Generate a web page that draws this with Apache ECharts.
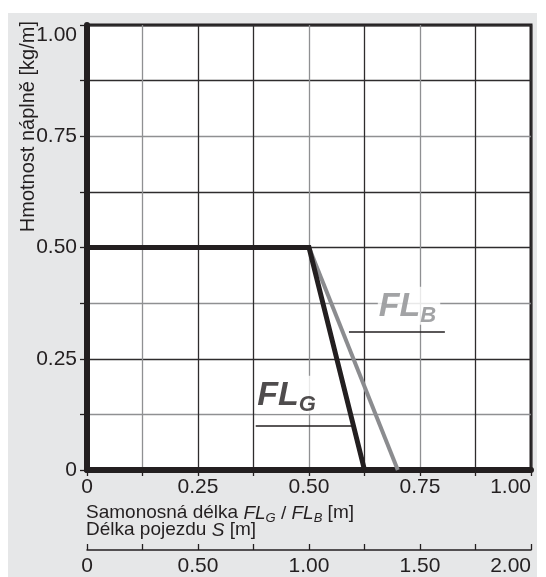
<!DOCTYPE html>
<html>
<head>
<meta charset="utf-8">
<script src="https://cdn.jsdelivr.net/npm/echarts@6/dist/echarts.min.js"></script>
<style>
html,body{margin:0;padding:0;background:#fff;}
#c{width:546px;height:577px;}
</style>
</head>
<body>
<div id="c"></div>
<script>
// ---- data ----
const flG = [[0, 0.5], [0.5, 0.5], [0.625, 0]];
const flB = [[0.5, 0.5], [0.7, 0]];
const xTickLabels = ['0', '0.25', '0.50', '0.75', '1.00'];
const yTickLabels = ['0', '0.25', '0.50', '0.75', '1.00'];
const sTickLabels = ['0', '0.50', '1.00', '1.50', '2.00'];
const labelGPos = [[0.381, 0.212]];
const labelBPos = [[0.655, 0.412]];
const underlineG = [[0.38, 0.1], [0.6, 0.1]];
const underlineB = [[0.59, 0.31], [0.806, 0.31]];

const DARK = '#231f20';
const GRAYL = '#8b8c8f';
const GRIDD = '#2e2c2d';
const GRIDG = '#8f9092';
const FONT = 'Liberation Sans, Arial, sans-serif';

const xSplitColors = [GRIDD, GRIDG, GRIDD, GRIDD, GRIDG, GRIDD, GRIDG, GRIDD, GRIDD];
const ySplitColors = [GRIDD, GRIDG, GRIDD, GRIDG, GRIDD, GRIDD, GRIDG, GRIDD, GRIDD];

function fmt(labels, max) {
  return function (v) {
    const i = Math.round(v / max * 4 * 1000) / 1000;
    return Number.isInteger(i) ? labels[i] : '';
  };
}

const chart = echarts.init(document.getElementById('c'), null, {renderer: 'canvas'});

const labelRich = function (color) {
  return {
    a: {fontFamily: FONT, fontSize: 34, fontWeight: 'bold', fontStyle: 'italic', color: color, lineHeight: 28, verticalAlign: 'top'},
    b: {fontFamily: FONT, fontSize: 22, fontWeight: 'bold', fontStyle: 'italic', color: color, lineHeight: 22, padding: [15, 0, 0, 0], verticalAlign: 'top'}
  };
};

chart.setOption({
  animation: false,
  backgroundColor: '#fff',
  graphic: [
    {type: 'rect', z: -100, silent: true, shape: {x: 8, y: 13, width: 529, height: 564}, style: {fill: '#e6e7e8'}},
    {type: 'text', left: 86, top: 503, z: 10, style: {
      text: 'Samonosná délka {i|FL}{s|G}{g| / }{gi|FL}{gs|B} [m]',
      fontFamily: FONT, fontSize: 19, fill: DARK, lineHeight: 17, verticalAlign: 'top',
      rich: {
        i: {fontFamily: FONT, fontSize: 19, fontStyle: 'italic', color: DARK, lineHeight: 17, verticalAlign: 'top'},
        s: {fontFamily: FONT, fontSize: 13, fontStyle: 'italic', color: DARK, lineHeight: 13, padding: [8, 0, 0, 0], verticalAlign: 'top'},
        g: {fontFamily: FONT, fontSize: 19, color: GRAYL, lineHeight: 17, verticalAlign: 'top'},
        gi: {fontFamily: FONT, fontSize: 19, fontStyle: 'italic', color: GRAYL, lineHeight: 17, verticalAlign: 'top'},
        gs: {fontFamily: FONT, fontSize: 13, fontStyle: 'italic', color: GRAYL, lineHeight: 13, padding: [8, 0, 0, 0], verticalAlign: 'top'}
      }
    }},
    {type: 'text', left: 86, top: 520, z: 10, style: {
      text: 'Délka pojezdu {i|S} [m]',
      fontFamily: FONT, fontSize: 19, fill: DARK, lineHeight: 17, verticalAlign: 'top',
      rich: {i: {fontFamily: FONT, fontSize: 19, fontStyle: 'italic', color: DARK, lineHeight: 17, verticalAlign: 'top'}}
    }},
    {type: 'text', x: 38, y: 21, rotation: Math.PI / 2, z: 10, style: {
      text: 'Hmotnost náplně [kg/m]', fontFamily: FONT, fontSize: 20, fill: DARK,
      align: 'right', verticalAlign: 'bottom'
    }}
  ],
  grid: {left: 87, top: 25, width: 444, height: 446, show: true, backgroundColor: '#fff', borderColor: DARK, borderWidth: 3, containLabel: false},
  xAxis: [
    {
      type: 'value', min: 0, max: 1, interval: 0.125, position: 'bottom',
      axisLine: {show: true, onZero: false, lineStyle: {color: DARK, width: 6}},
      axisTick: {show: true, length: 6, lineStyle: {color: DARK, width: 1.3}},
      axisLabel: {show: true, margin: 7, fontFamily: FONT, fontSize: 21, color: DARK, formatter: fmt(xTickLabels, 1), alignMaxLabel: 'right', showMinLabel: true, showMaxLabel: true},
      splitLine: {show: true, lineStyle: {color: xSplitColors, width: 1.3}}
    },
    {
      type: 'value', min: 0, max: 2, interval: 0.25, position: 'bottom', offset: 80, gridIndex: 0,
      axisLine: {show: true, onZero: false, lineStyle: {color: DARK, width: 1.5}},
      axisTick: {show: true, inside: true, length: 6, lineStyle: {color: DARK, width: 1.3}},
      axisLabel: {show: true, margin: 6, fontFamily: FONT, fontSize: 21, color: DARK, formatter: fmt(sTickLabels, 2), alignMaxLabel: 'right', showMinLabel: true, showMaxLabel: true},
      splitLine: {show: false}
    }
  ],
  yAxis: {
    type: 'value', min: 0, max: 1, interval: 0.125,
    axisLine: {show: true, onZero: false, lineStyle: {color: DARK, width: 6}},
    axisTick: {show: true, length: 7, lineStyle: {color: DARK, width: 1.3}},
    axisLabel: {show: true, margin: 10, fontFamily: FONT, fontSize: 21, color: DARK, formatter: fmt(yTickLabels, 1), verticalAlignMaxLabel: 'top', showMinLabel: true, showMaxLabel: true},
    splitLine: {show: true, lineStyle: {color: ySplitColors, width: 1.3}}
  },
  series: [
    {
      type: 'scatter', xAxisIndex: 0, data: labelGPos, symbolSize: 0, silent: true, z: 3,
      label: {show: true, position: [0, 0], formatter: '{a|FL}{b|G}', backgroundColor: '#fff', padding: [3, 4, 7, 1], rich: labelRich(DARK)}
    },
    {
      type: 'scatter', xAxisIndex: 0, data: labelBPos, symbolSize: 0, silent: true, z: 3,
      label: {show: true, position: [0, 0], formatter: '{a|FL}{b|B}', backgroundColor: '#fff', padding: [3, 4, 7, 1], rich: labelRich(GRAYL)}
    },
    {
      type: 'line', xAxisIndex: 0, data: flB, symbol: 'none', silent: true, z: 4,
      lineStyle: {color: GRAYL, width: 4},
      markLine: {silent: true, symbol: 'none', label: {show: false}, lineStyle: {color: DARK, width: 1.5, type: 'solid'},
        data: [[{coord: underlineG[0]}, {coord: underlineG[1]}], [{coord: underlineB[0]}, {coord: underlineB[1]}]]}
    },
    {
      type: 'line', xAxisIndex: 0, data: flG, symbol: 'none', silent: true, z: 5,
      lineStyle: {color: DARK, width: 5, join: 'miter'}
    }
  ]
});
</script>
</body>
</html>
